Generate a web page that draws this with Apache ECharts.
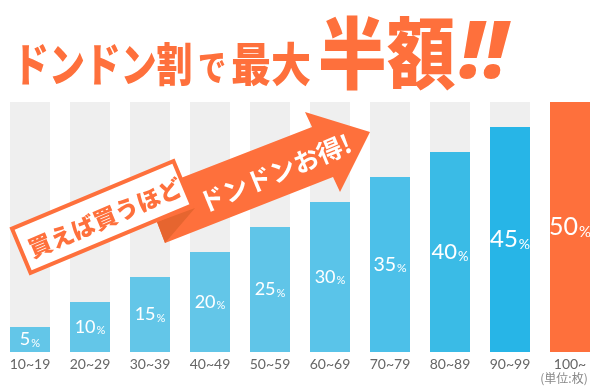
<!DOCTYPE html>
<html>
<head>
<meta charset="utf-8">
<script src="https://cdn.jsdelivr.net/npm/echarts@6/dist/echarts.min.js"></script>
<style>
html,body{margin:0;padding:0;background:#fff;}
#chart{width:600px;height:390px;}
</style>
</head>
<body>
<div id="chart"></div>
<script>
// ---- data ----
const categories = ['10~19','20~29','30~39','40~49','50~59','60~69','70~79','80~89','90~99','100~'];
const discounts = [5,10,15,20,25,30,35,40,45,50];
const unitLabel = '(単位:枚)';
const titleParts = ['ドンドン割','で','最大','半額','!!'];
const boxText = '買えば買うほど';
const arrowText = 'ドンドンお得!';

// ---- styles ----
const barColors = ['#63c6e8','#63c6e8','#63c6e8','#63c6e8','#60c5e8','#5ac4e9','#4cc0e9','#3abbe6','#27b5e7','#fe703c'];
const labelSizes = [18,18,18,18,18,18,19.5,22,24,25];
const ORANGE = '#fe703c';
const deg = Math.PI/180;

const chart = echarts.init(document.getElementById('chart'), null, {renderer:'canvas'});

const seriesData = discounts.map((v,i)=>({
  value: v,
  itemStyle: {color: barColors[i]},
  label: {
    rich: {
      n: {fontSize: labelSizes[i], color:'#fff', fontFamily:'Lato', verticalAlign:'bottom', lineHeight: labelSizes[i]},
      p: {fontSize: Math.round(labelSizes[i]*0.6), color:'#fff', fontFamily:'Lato', verticalAlign:'bottom', lineHeight: labelSizes[i]*0.9, padding:[0,0,0,1]}
    }
  }
}));

const CJK = '"Noto Sans CJK JP"';
function titleText(text, x, y, size, sx){
  return {type:'text', x:x, y:y, scaleX:sx, z:100,
    style:{text:text, fill:ORANGE, font:'900 '+size+'px '+CJK, align:'left', verticalAlign:'middle'}};
}

const option = {
  animation:false,
  grid:{left:0,right:0,top:102,bottom:38},
  xAxis:{type:'category', data:categories,
    axisLine:{show:false}, axisTick:{show:false},
    axisLabel:{color:'#666', fontSize:14, fontFamily:'Lato', margin:5}},
  yAxis:{type:'value', min:0, max:50, show:false, splitLine:{show:false}},
  series:[{
    type:'bar', data:seriesData, barWidth:40,
    showBackground:true, backgroundStyle:{color:'#efefef'},
    label:{show:true, position:'inside',
      formatter:p=>'{n|'+p.value+'}{p|%}'}
  }],
  graphic:[
    titleText(titleParts[0], 13, 64, 46, 0.78),
    titleText(titleParts[1], 198, 67, 36, 0.78),
    titleText(titleParts[2], 231, 64, 46, 0.87),
    titleText(titleParts[3], 318, 53, 78, 0.88),
    {type:'text', x:459, y:55, z:100,
      style:{text:titleParts[4], fill:ORANGE, font:'italic 900 80px "Noto Sans"', align:'left', verticalAlign:'middle'}},
    // arrow
    {type:'polygon', z:100, shape:{points:[[150,190],[312,127],[305,112],[370,132],[340,192],[333,177],[165,243],[157,222]]},
      style:{fill:ORANGE}},
    {type:'polygon', z:101, shape:{points:[[157,222],[195,208],[165,243]]}, style:{fill:'#e6652f'}},
    // box
    {type:'rect', z:102, x:102, y:217, rotation:22.7*deg,
      shape:{x:-87.5, y:-24, width:175, height:48},
      style:{fill:'#fff', stroke:ORANGE, lineWidth:4}},
    {type:'text', z:103, x:105, y:218, rotation:23*deg,
      style:{text:boxText, fill:ORANGE, font:'900 23.5px '+CJK, align:'center', verticalAlign:'middle'}},
    {type:'text', z:103, x:275, y:173, rotation:22.5*deg,
      style:{text:arrowText, fill:'#fff', font:'bold 25.5px '+CJK, align:'center', verticalAlign:'middle'}},
    {type:'text', z:100, x:564, y:378,
      style:{text:unitLabel, fill:'#888', font:'12px '+CJK, align:'center', verticalAlign:'middle'}}
  ]
};
chart.setOption(option);
</script>
</body>
</html>
